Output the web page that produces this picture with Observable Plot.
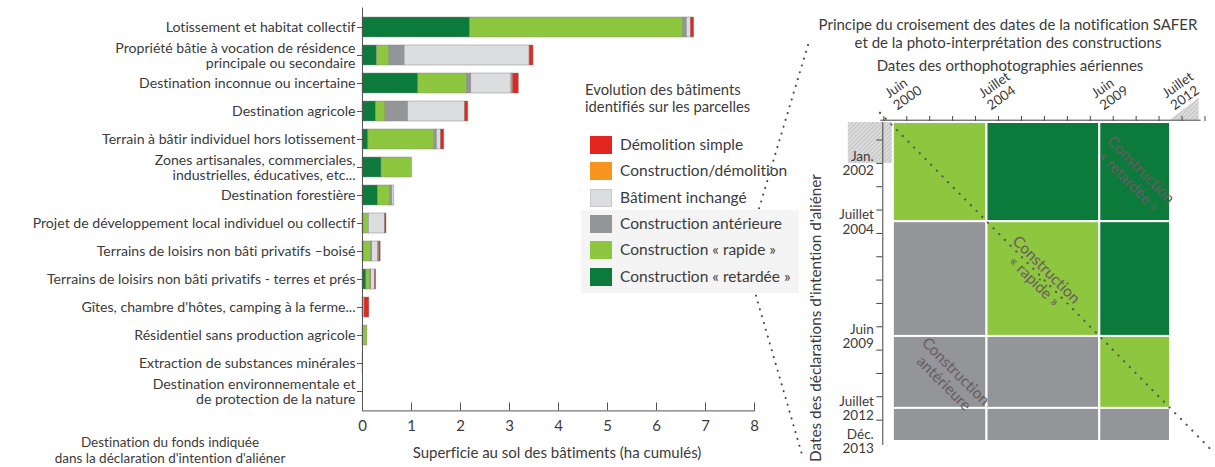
<!DOCTYPE html>
<html><head><meta charset="utf-8">
<script src="https://cdn.jsdelivr.net/npm/d3@7"></script>
<script src="https://cdn.jsdelivr.net/npm/@observablehq/plot@0.6"></script>
<style>
body{margin:0;background:#fff;font-family:Lato,sans-serif;color:#3b3b3b;font-variant-ligatures:none;font-feature-settings:"liga" 0}
#wrap{position:relative;width:1215px;height:467px;overflow:hidden;background:#fff}
.abs{position:absolute;white-space:nowrap}
svg{overflow:visible}
svg text{font-variant-ligatures:none;font-feature-settings:"liga" 0}
</style></head><body><div id="wrap"></div>
<script>
// ---- Bar chart data (ha cumulés) ----
const categories = [
  "Lotissement et habitat collectif",
  "Propriété bâtie à vocation de résidence\nprincipale ou secondaire",
  "Destination inconnue ou incertaine",
  "Destination agricole",
  "Terrain à bâtir individuel hors lotissement",
  "Zones artisanales, commerciales,\nindustrielles, éducatives, etc...",
  "Destination forestière",
  "Projet de développement local individuel ou collectif",
  "Terrains de loisirs non bâti privatifs –boisé",
  "Terrains de loisirs non bâti privatifs - terres et prés",
  "Gîtes, chambre d'hôtes, camping à la ferme...",
  "Résidentiel sans production agricole",
  "Extraction de substances minérales",
  "Destination environnementale et\nde protection de la nature"
];
const seriesNames = ["Construction « retardée »","Construction « rapide »","Construction antérieure","Bâtiment inchangé","Construction/démolition","Démolition simple"];
const seriesColors = ["#0b7a3b","#8dc63f","#939598","#dcdddf","#f7941d","#e3261e"];
const retardee   = [2.20, 0.30, 1.14, 0.28, 0.12, 0.39, 0.32, 0.02, 0.03, 0.08, 0,    0,    0,    0];
const rapide     = [4.35, 0.25, 1.00, 0.19, 1.35, 0.62, 0.24, 0.11, 0.15, 0.08, 0,    0.10, 0,    0];
const anterieure = [0.07, 0.31, 0.08, 0.46, 0.05, 0,    0.05, 0,    0.02, 0.02, 0,    0,    0,    0];
const inchange   = [0.08, 2.55, 0.82, 1.16, 0.08, 0,    0.04, 0.33, 0.12, 0.07, 0.04, 0,    0.01, 0];
const constDemol = [0,    0,    0.03, 0,    0,    0,    0,    0,    0.02, 0,    0,    0,    0,    0];
const demolition = [0.07, 0.08, 0.12, 0.07, 0.07, 0,    0,    0.03, 0.03, 0.03, 0.10, 0,    0,    0];
const xTicks = [0,1,2,3,4,5,6,7,8];

// ---- Diagram data ----
const photoDates  = ["2000-06-01","2004-07-01","2009-06-01","2012-07-01"];
const photoLabels = ["Juin\n2000","Juillet\n2004","Juin\n2009","Juillet\n2012"];
const declStart   = "2000-04-01";
const declDates   = ["2002-01-01","2004-07-01","2009-06-01","2012-07-01","2013-12-01"];
const declLabels  = ["Jan.\n2002","Juillet\n2004","Juin\n2009","Juillet\n2012","Déc.\n2013"];
const rowBounds   = ["2000-04-01","2004-07-01","2009-06-01","2012-07-01","2013-12-01"];
const cellTypes = [
  ["Construction « rapide »","Construction « retardée »","Construction « retardée »"],
  ["Construction antérieure","Construction « rapide »","Construction « retardée »"],
  ["Construction antérieure","Construction antérieure","Construction « rapide »"],
  ["Construction antérieure","Construction antérieure","Construction antérieure"]
];
const annotations = [
  {x: "2010-12-15", y: "2002-07-10", text: "Construction\n« retardée »"},
  {x: "2006-11-01", y: "2006-10-20", text: "Construction\n« rapide »"},
  {x: "2002-11-20", y: "2011-03-01", text: "Construction\nantérieure"}
];

const wrap = document.getElementById("wrap");
const D = s => new Date(s);

// connectors (decorative)
const conn = d3.select(wrap).append("svg").attr("class","abs").style("left","0px").style("top","0px")
  .attr("width",1215).attr("height",467);
[[808,45,752,232],[752,282,803,458]].forEach(([a,b,c,d]) => conn.append("line")
  .attr("x1",a).attr("y1",b).attr("x2",c).attr("y2",d).attr("stroke","#444").attr("stroke-width",2)
  .attr("stroke-dasharray","0.1 7").attr("stroke-linecap","round"));

// legend panel
const panel = document.createElement("div");
panel.className = "abs";
Object.assign(panel.style, {left:"581px", top:"210px", width:"218px", height:"83px", background:"#f4f4f4"});
wrap.appendChild(panel);

// ---- Bar chart ----
const table = [];
const seriesValues = [retardee, rapide, anterieure, inchange, constDemol, demolition];
seriesNames.forEach((s, j) => categories.forEach((c, i) => {
  if (seriesValues[j][i] > 0) table.push({cat: c, series: s, value: seriesValues[j][i]});
}));

const bar = Plot.plot({
  width: 770, height: 467,
  marginLeft: 362, marginRight: 16, marginTop: 7.6, marginBottom: 56.6,
  style: {fontFamily: "Lato, sans-serif", fontSize: "14.1px", color: "#3b3b3b", background: "transparent"},
  x: {domain: [0, 8], label: null},
  y: {domain: categories, paddingInner: 0.3, paddingOuter: 0.15, label: null},
  color: {domain: seriesNames, range: seriesColors},
  marks: [
    Plot.barX(table, {y: "cat", x: "value", fill: "series", stroke: "#8a8a8a", strokeWidth: 0.5}),
    Plot.frame({anchor: "bottom", stroke: "#555"}),
    Plot.ruleX([0], {stroke: "#555"}),
    Plot.axisX(xTicks, {tickSize: -8, stroke: "#555", fontSize: 15, tickFormat: d => d}),
    Plot.axisY({tickSize: 5, tickPadding: 2, stroke: "#555", lineHeight: 1.08})
  ]
});
bar.classList.add("abs"); bar.style.left = "0px"; bar.style.top = "0px";
wrap.appendChild(bar);

function addText(txt, css) {
  const el = document.createElement("div");
  el.className = "abs";
  el.innerHTML = txt;
  Object.assign(el.style, css);
  wrap.appendChild(el);
  return el;
}
addText("Superficie au sol des bâtiments (ha cumulés)", {left:"387px", top:"443px", width:"340px", textAlign:"center", fontSize:"15px"});
addText("Destination du fonds indiquée<br>dans la déclaration d'intention d'aliéner", {left:"20px", top:"434px", width:"300px", textAlign:"center", fontSize:"13.5px", lineHeight:"16px"});

// legend
addText("Evolution des bâtiments<br>identifiés sur les parcelles", {left:"585px", top:"81px", fontSize:"14.8px", lineHeight:"16.5px"});
seriesNames.slice().reverse().forEach((s, k) => {
  const col = seriesColors[seriesNames.indexOf(s)];
  const top = 136 + k * 26.3;
  addText("", {left:"590px", top: top + "px", width:"22px", height:"18px", background: col, border: col === "#dcdddf" ? "1px solid #c8c8c8" : "none", boxSizing:"border-box"});
  addText(s, {left:"620px", top: (top - 1) + "px", fontSize:"15.5px"});
});

// ---- Diagram ----
const cells = [];
cellTypes.forEach((row, r) => row.forEach((t, c) => cells.push({
  x1: D(photoDates[c]), x2: D(photoDates[c + 1]), y1: D(rowBounds[r]), y2: D(rowBounds[r + 1]), type: t
})));
const yearTicksX = d3.utcYears(D("2000-01-01"), D("2014-01-02"));
const yearTicksY = d3.utcYears(D("2001-01-01"), D("2013-01-02"));

const diag = Plot.plot({
  width: 415, height: 467,
  marginLeft: 83.3, marginRight: 45, marginTop: 122, marginBottom: 26,
  style: {fontFamily: "Lato, sans-serif", fontSize: "14px", color: "#3b3b3b", background: "transparent"},
  x: {type: "utc", domain: [D("2000-01-01"), D("2012-07-01")]},
  y: {type: "utc", domain: [D(declStart), D("2013-12-01")], reverse: true},
  color: {domain: seriesNames, range: seriesColors},
  marks: [
    Plot.rect([{x1: D("1998-06-15"), x2: D(photoDates[0]), y1: D(declStart), y2: D(declDates[0])}],
      {x1: "x1", x2: "x2", y1: "y1", y2: "y2", fill: "url(#hatch)"}),
    Plot.areaY([{x: D(photoDates[3]), lo: D("2000-02-25"), hi: D("2000-02-25")}, {x: D("2013-10-01"), lo: D("2000-02-25"), hi: D("1999-03-15")}],
      {x: "x", y1: "lo", y2: "hi", fill: "url(#hatch)"}),
    Plot.rect(cells, {x1: "x1", x2: "x2", y1: "y1", y2: "y2", fill: "type", stroke: "#fff", strokeWidth: 2}),
    Plot.line([D("1999-11-01"), D("2014-05-01")], {x: d => d, y: d => d, stroke: "#555", strokeWidth: 2.2, strokeDasharray: "0.1 8", strokeLinecap: "round"}),
    Plot.ruleY([D("2000-02-25")], {x1: D("1999-11-15"), x2: D("2013-11-01"), stroke: "#444"}),
    Plot.axisX(yearTicksX, {anchor: "top", tickSize: 5, tickFormat: () => "", stroke: "#444", dy: -2}),
    Plot.ruleX([D("2000-01-01")], {y1: D(declStart), y2: D("2014-02-01"), stroke: "#444", dx: -1}),
    Plot.axisY(yearTicksY, {anchor: "left", tickSize: 6, tickFormat: () => "", stroke: "#444", dx: -1}),
    Plot.text(declDates, {y: d => D(d), text: (d, i) => declLabels[i], frameAnchor: "left", dx: -10, textAnchor: "end", lineAnchor: "middle", fontSize: 13.5, lineHeight: 1.08}),
    Plot.text(photoDates, {x: d => D(d), text: (d, i) => photoLabels[i], frameAnchor: "top", dy: -12, dx: 4, rotate: -35, textAnchor: "start", lineAnchor: "bottom", fontSize: 13.5, lineHeight: 1.08}),
    Plot.text(annotations, {x: d => D(d.x), y: d => D(d.y), text: "text", rotate: 45, fill: "#6b5a62", fontSize: 15.5, lineHeight: 1.08})
  ]
});
const defs = d3.select(diag).insert("defs", ":first-child");
const pat = defs.append("pattern").attr("id","hatch").attr("patternUnits","userSpaceOnUse").attr("width",3).attr("height",3).attr("patternTransform","rotate(45)");
pat.append("rect").attr("width",3).attr("height",3).attr("fill","#dcdcdc");
pat.append("line").attr("x1",0).attr("y1",0).attr("x2",0).attr("y2",3).attr("stroke","#a9a9a9").attr("stroke-width",1);
diag.classList.add("abs"); diag.style.left = "800px"; diag.style.top = "0px";
wrap.appendChild(diag);

addText("Principe du croisement des dates de la notification SAFER<br>et de la photo-interprétation des constructions", {left:"808px", top:"15px", width:"400px", textAlign:"center", fontSize:"15px", lineHeight:"18px"});
addText("Dates des orthophotographies aériennes", {left:"860px", top:"56px", width:"300px", textAlign:"center", fontSize:"15px"});
const yt = addText("Dates des déclarations d'intention d'aliéner", {left:"815px", top:"318px", fontSize:"15.3px", transformOrigin:"0 0"});
yt.style.transform = "rotate(-90deg) translate(-50%, -50%)";
</script></body></html>
